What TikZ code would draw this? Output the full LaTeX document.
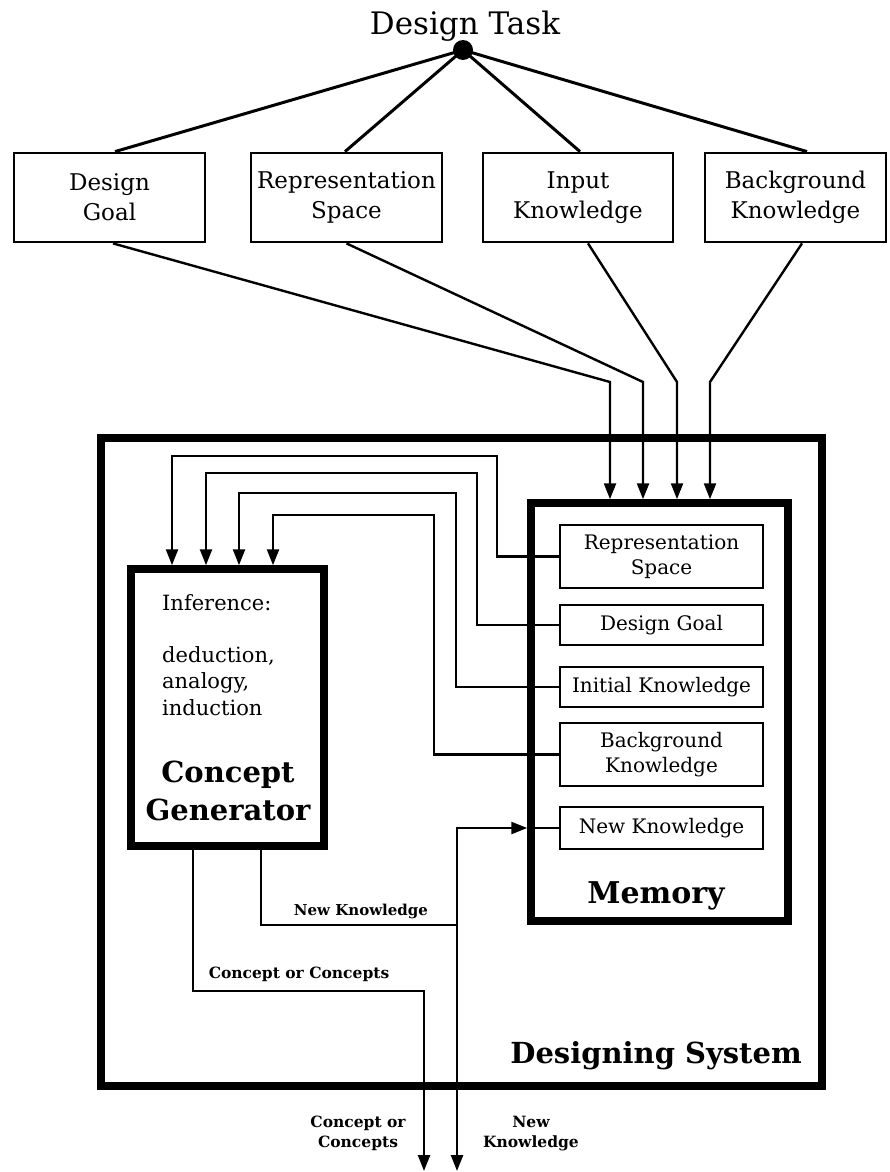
\documentclass[tikz,border=0pt]{standalone}
\usepackage{fontspec}
\setmainfont{DejaVu Serif}
\usetikzlibrary{arrows.meta,calc}
\begin{document}
\begin{tikzpicture}[x=1pt,y=-1pt,
  conn/.style={line width=2.4pt},
  topline/.style={line width=3pt},
  arr/.style={conn,-{Triangle[length=16pt,width=12pt]}},
  topbox/.style={draw,line width=2.8pt,minimum width=#1,minimum height=89pt,inner sep=0pt,align=center,font=\fontsize{23}{30}\selectfont},
  membox/.style={draw,line width=2.3pt,minimum width=203pt,inner sep=0pt,align=center,font=\fontsize{20}{25}\selectfont},
  heavybox/.style={draw,line width=7.5pt,inner sep=0pt},
  boldlbl/.style={font=\bfseries\fontsize{#1}{#1}\selectfont,anchor=base,inner sep=0pt},
  txt/.style={font=\fontsize{21}{25}\selectfont,anchor=base west,inner sep=0pt}]
\fill[white] (0,0) rectangle (889,1172);
\useasboundingbox (0,0) rectangle (889,1172);

% top
\node[font=\fontsize{31}{36}\selectfont,anchor=base,inner sep=0pt] (task) at (465,35) {Design Task};
\node[circle,fill,inner sep=0pt,minimum size=20pt] (dot) at (463,50) {};

\node[topbox=191pt] (dg) at (109.5,197.5) {Design\\Goal};
\node[topbox=191pt] (rs) at (346.5,197.5) {Representation\\Space};
\node[topbox=190pt] (ik) at (578,197.5) {Input\\Knowledge};
\node[topbox=181pt] (bk) at (795.5,197.5) {Background\\Knowledge};

\draw[topline] (dot.center) -- ([xshift=5.5pt]dg.north);
\draw[topline] (dot.center) -- ([xshift=-1.5pt]rs.north);
\draw[topline] (dot.center) -- ([xshift=2pt]ik.north);
\draw[topline] (dot.center) -- ([xshift=11.5pt]bk.north);

% boxes
\node[heavybox,minimum width=721pt,minimum height=648pt] (sys) at (461.5,762) {};
\node[heavybox,minimum width=257pt,minimum height=418pt] (mem) at (659.5,712) {};
\node[heavybox,minimum width=193pt,minimum height=277pt] (cg) at (227.5,707.5) {};

\node[membox,minimum height=63pt] (mrs) at (661.5,556.5) {Representation\\Space};
\node[membox,minimum height=40pt] (mdg) at (661.5,625) {Design Goal};
\node[membox,minimum height=40pt] (mik) at (661.5,687) {Initial Knowledge};
\node[membox,minimum height=63pt] (mbk) at (661.5,754.5) {Background\\Knowledge};
\node[membox,minimum height=42pt] (mnk) at (661.5,828) {New Knowledge};

% inputs into memory
\coordinate (b1) at (610,382);
\coordinate (b2) at (643,382);
\coordinate (b3) at (677,382);
\coordinate (b4) at (710,382);
\draw[arr] ([xshift=3.5pt]dg.south) -- (b1) -- (b1 |- mem.north);
\draw[arr] (rs.south) -- (b2) -- (b2 |- mem.north);
\draw[arr] ([xshift=10pt]ik.south) -- (b3) -- (b3 |- mem.north);
\draw[arr] ([xshift=6.5pt]bk.south) -- (b4) -- (b4 |- mem.north);

% memory to concept generator
\coordinate (c1) at (497,456);
\coordinate (c2) at (477,473);
\coordinate (c3) at (456,493);
\coordinate (c4) at (434,515);
\coordinate (t1) at (172,0);
\coordinate (t2) at (206,0);
\coordinate (t3) at (239,0);
\coordinate (t4) at (273,0);
\draw[arr] (mrs.west) -| (c1) -| (t1 |- cg.north);
\draw[arr] (mdg.west) -| (c2) -| (t2 |- cg.north);
\draw[arr] (mik.west) -| (c3) -| (t3 |- cg.north);
\draw[arr] (mbk.west) -| (c4) -| (t4 |- cg.north);

% outputs
\coordinate (j) at (457,925);
\coordinate (n1) at (261,0);
\coordinate (k) at (424,991);
\coordinate (k1) at (193,0);
\coordinate (e1) at (424,1171);
\coordinate (e2) at (457,1171);
\draw[conn] (n1 |- cg.south) |- (j);
\draw[arr] (j) |- (mnk.west -| mem.west);
\draw[conn] (mnk.west) -- (mnk.west -| mem.west);
\draw[arr] (j) -- (e2);
\draw[arr] (k1 |- cg.south) |- (k) -- (e1);

% texts
\node[txt] (inf) at (162,610) {Inference:};
\node[txt] (ded) at (162,662) {deduction,};
\node[txt] (ana) at (162,688) {analogy,};
\node[txt] (ind) at (162,715) {induction};
\node[boldlbl=29] (cc) at (228,782) {Concept};
\node[boldlbl=29] (gen) at (228,820) {Generator};
\node[boldlbl=30] (memlbl) at (656,903) {Memory};
\node[boldlbl=29,anchor=base east] (syslbl) at (802,1063) {Designing System};

\node[boldlbl=15] (lnk) at (361,915) {New Knowledge};
\node[boldlbl=15.5] (lcc) at (299,978) {Concept or Concepts};
\node[boldlbl=15.5] (o1) at (358,1127) {Concept or};
\node[boldlbl=15.5] (o2) at (358,1147) {Concepts};
\node[boldlbl=15.5] (o3) at (531,1127) {New};
\node[boldlbl=15.5] (o4) at (531,1147) {Knowledge};
\end{tikzpicture}
\end{document}
